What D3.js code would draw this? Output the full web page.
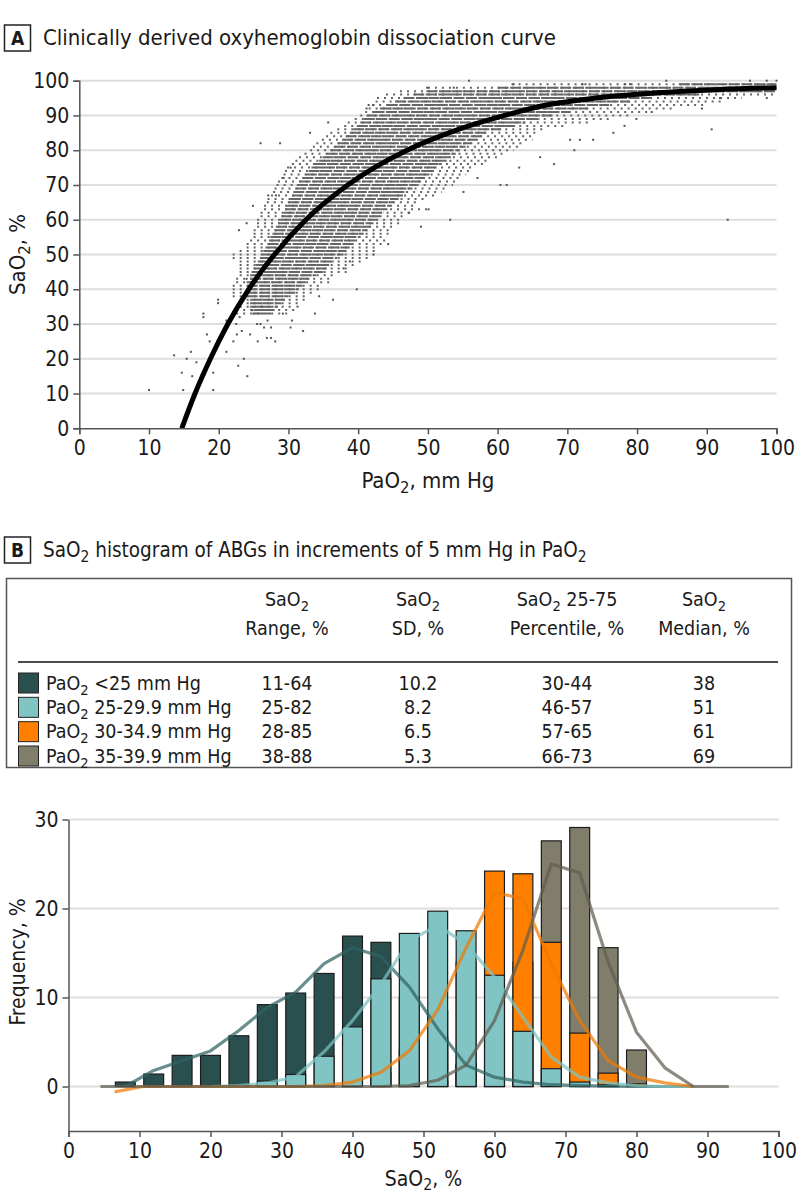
<!DOCTYPE html>
<html>
<head>
<meta charset="utf-8">
<script src="https://cdn.jsdelivr.net/npm/d3@7"></script>
<style>
  body { margin: 0; background: #fff; }
  text { font-family: 'DejaVu Sans Condensed', 'Liberation Sans Narrow', sans-serif; fill: #1a1a1a; }
</style>
</head>
<body>
<svg id="chart" width="798" height="1197"></svg>
<script>
// ---------- panel A data ----------
// fitted curve
const curvePaO2 = [14.7, 16.6, 18.8, 21.3, 24.3, 28.0, 32.5, 38.5, 47, 53, 61, 67, 74, 83, 92, 100];
const curveSaO2 = [0, 10, 20, 30, 40, 50, 60, 70, 80, 85, 90, 93, 95, 96.5, 97.5, 98];

// each SaO2 level: [SaO2, sparse from, dense from, dense to, sparse to] (PaO2, mm Hg)
const bandRows = [
  [33, 22.5, 25.0, 27.5, 30], [34, 22.5, 25.0, 28.0, 31], [35, 23, 24.5, 28.5, 31],
  [36, 23, 24.5, 29.0, 32], [37, 23, 24.5, 29.5, 33], [38, 22, 24.0, 30.0, 33],
  [39, 22, 24.0, 31.0, 34], [40, 22, 24.0, 31.5, 35], [41, 22, 24.0, 32.0, 35],
  [42, 22.5, 24.0, 32.5, 36], [43, 22.5, 24.5, 33.0, 36], [44, 23, 24.5, 34.0, 37],
  [45, 23, 24.7, 35.0, 38.6], [46, 23, 25.0, 35.5, 39], [47, 23, 25.3, 36.0, 40],
  [48, 23, 25.6, 36.5, 41], [49, 22, 25.9, 37.0, 42], [50, 22, 26.2, 37.9, 42.2],
  [51, 23, 26.4, 38.2, 43], [52, 24, 26.7, 38.8, 43], [53, 24, 27.0, 39.3, 44],
  [54, 24.5, 27.2, 39.8, 44], [55, 25, 27.4, 40.3, 44.1], [56, 25, 27.7, 40.8, 45],
  [57, 25, 28.0, 41.3, 45], [58, 25.5, 28.2, 41.8, 45.5], [59, 25.5, 28.5, 42.2, 46],
  [60, 25.5, 28.8, 42.7, 46], [61, 26, 29.0, 43.2, 47], [62, 26, 29.3, 43.7, 47.5],
  [63, 26.5, 29.5, 44.2, 50], [64, 26.5, 29.8, 44.6, 48], [65, 26.9, 30.0, 45.1, 49],
  [66, 27, 30.2, 45.8, 50], [67, 27.5, 30.5, 46.5, 51], [68, 27.8, 30.7, 47.1, 52],
  [69, 28, 31.0, 47.8, 53], [70, 28.3, 31.2, 48.4, 53.6], [71, 28.5, 31.6, 49.0, 54],
  [72, 29, 32.0, 49.6, 55], [73, 29.3, 32.5, 50.2, 55.5], [74, 29.5, 32.9, 50.8, 56],
  [75, 29.8, 33.3, 51.3, 56.5], [76, 30.5, 33.8, 52.0, 58], [77, 31, 34.4, 52.7, 59],
  [78, 31.5, 34.9, 53.3, 60], [79, 32.3, 35.5, 54.0, 61], [80, 33.1, 36.0, 54.6, 62.3],
  [81, 33.5, 36.6, 55.4, 63], [82, 34, 37.1, 56.2, 64], [83, 34.8, 37.7, 57.0, 65],
  [84, 35.4, 38.2, 57.7, 65.5], [85, 36, 38.8, 58.5, 66], [86, 37, 39.3, 60.5, 67],
  [87, 38, 39.8, 62.5, 70], [88, 38.5, 40.3, 64.0, 73], [89, 39.5, 40.8, 66.0, 76],
  [90, 40.3, 41.2, 68.0, 79], [91, 41, 42.2, 70.5, 82], [92, 41.5, 43.1, 73.0, 85],
  [93, 42, 44.1, 76.0, 90], [94, 42.5, 45.3, 79.0, 92], [95, 42.7, 46.5, 82.0, 95],
  [96, 44, 47.9, 89.0, 100], [97, 46, 49.8, 100, 100], [98, 50, 60.0, 100, 100],
  [99, 62, 86.0, 100, 100]
];

// single ABGs outside the dense cloud: [PaO2, SaO2]
const outliers = [
  [10, 11], [13.6, 21], [14.7, 16], [14.9, 11], [15.4, 20], [16, 22], [16.2, 15], [16.8, 19],
  [17.8, 32], [17.8, 33], [18.3, 27], [18.7, 25], [19.2, 16], [19.2, 11], [19.9, 36], [19.9, 37],
  [21.1, 22], [21.1, 31], [22.1, 25], [22.6, 27], [22.8, 18], [23.3, 28], [24.1, 15], [22.9, 57],
  [24, 59], [24.9, 64], [26, 82], [28.8, 82], [27.1, 67], [28.2, 67], [29.3, 72], [30.3, 75],
  [33.1, 85], [35.7, 88], [25.5, 30], [26.5, 29], [27.5, 26], [28.1, 25], [30.3, 29], [30.5, 31],
  [32.1, 28], [33.8, 33], [36.4, 37], [39.8, 40], [42.2, 50], [38.8, 48], [37.9, 46], [44.3, 53],
  [41.5, 93], [42.2, 93], [41.2, 92], [93, 60], [90.7, 86], [89.3, 92], [53.2, 60], [49, 58],
  [55.1, 68], [60.4, 70], [61.3, 70], [57.1, 72], [68.1, 76], [71, 80], [66.1, 78], [63.1, 75],
  [73.7, 83], [70.4, 83], [71.8, 83], [76.6, 85], [78.2, 87], [79.9, 89], [82.1, 91], [50.1, 63],
  [47.3, 62], [96.2, 100], [98.6, 100], [100, 100], [84.2, 100], [55.9, 100], [62.3, 99], [72.1, 99],
  [72.6, 99], [78.3, 99], [79, 99], [53.7, 98], [49.9, 98], [98.6, 95], [91.9, 95], [24, 43],
  [24.8, 34], [26.2, 35], [23.6, 20], [25.6, 25], [26.9, 26], [29.2, 33], [31.3, 35], [34.4, 38],
  [22.5, 30], [23, 32], [24.5, 27], [26, 30], [27, 31], [27.5, 29], [25, 33]
];

// ---------- panel B data ----------
const groups = ["<25 mm Hg", "25-29.9 mm Hg", "30-34.9 mm Hg", "35-39.9 mm Hg"];
const colRange = ["11-64", "25-82", "28-85", "38-88"];
const colSD = ["10.2", "8.2", "6.5", "5.3"];
const colIQR = ["30-44", "46-57", "57-65", "66-73"];
const colMedian = ["38", "51", "61", "69"];

const binCenters = [8, 12, 16, 20, 24, 28, 32, 36, 40, 44, 48, 52, 56, 60, 64, 68, 72, 76, 80];
const freqLt25 = [0.5, 1.4, 3.5, 3.5, 5.7, 9.2, 10.5, 12.7, 16.9, 16.2, 10.0, 5.5, 2.5, 1.0, 0.3, 0, 0, 0, 0];
const freq25 = [0, 0, 0, 0, 0.1, 0.6, 1.35, 3.4, 6.7, 12.1, 17.2, 19.7, 17.5, 12.5, 6.2, 2.0, 0.5, 0.2, 0];
const freq30 = [0, 0, 0, 0, 0, 0, 0, 0, 0.4, 1.5, 4.0, 8.5, 14.0, 24.2, 23.9, 16.2, 6.0, 1.5, 0.3];
const freq35 = [0, 0, 0, 0, 0, 0, 0, 0, 0, 0, 0.1, 0.6, 2.5, 6.5, 14.0, 27.6, 29.1, 15.6, 4.1];

// smoothed frequency lines: x = SaO2 %, y = frequency %
const lineLt25X = [8, 12, 16, 20, 24, 28, 32, 36, 40, 44, 48, 52, 56, 60, 64, 68, 72, 76, 80, 84, 88];
const lineLt25Y = [0, 1.8, 2.9, 4.0, 6.3, 8.9, 10.6, 13.8, 15.6, 14.6, 11.2, 6.5, 2.4, 1.05, 0.5, 0.2, 0.1, 0.05, 0, 0, 0];
const line25X = [20, 24, 28, 32, 36, 40, 44, 48, 52, 56, 60, 64, 68, 72, 76, 80, 84, 88];
const line25Y = [0, 0.1, 0.4, 1.1, 3.9, 7.4, 11.5, 16.4, 18.1, 16.0, 12.3, 7.8, 3.3, 1.05, 0.4, 0.1, 0, 0];
const line30X = [6.5, 10.5, 16, 20, 24, 28, 32, 36, 40, 44, 48, 52, 56, 60, 64, 68, 72, 76, 80, 84, 88];
const line30Y = [-0.6, 0, 0, 0, 0, 0, 0, 0.1, 0.5, 1.6, 4.0, 8.6, 15.6, 21.8, 21.1, 13.8, 7.4, 2.9, 1.05, 0.4, 0];
const line35X = [4.5, 8, 12, 16, 20, 24, 28, 32, 36, 40, 44, 48, 52, 56, 60, 64, 68, 72, 76, 80, 84, 88, 93];
const line35Y = [0, 0, 0, 0, 0, 0, 0, 0, 0, 0, 0, 0.1, 0.7, 2.4, 7.4, 15.3, 25.0, 24.0, 14.0, 6.1, 2.1, 0, 0];

const barColors = ["#2a4f4f", "#80c4c4", "#ff8000", "#807e6b"];
const lineColors = ["#2f6363", "#7cc3c3", "#f07800", "#5f5d50"];

const svg = d3.select("#chart");
const axisColor = "#555";
const gridColor = "#dedede";

// text with "_2" turned into a subscript 2
const richText = (sel, str, shift) => {
    const parts = str.split("_2");
    parts.forEach((p, i) => {
        if (i > 0) {
            sel.append("tspan").attr("dy", shift).attr("font-size", "0.75em").text("2");
            sel.append("tspan").attr("dy", -shift).text(p);
        } else sel.append("tspan").text(p);
    });
    return sel;
};

// panel letter box + title
const panelHead = (letter, y, title, size) => {
    svg.append("rect").attr("x", 4.5).attr("y", y).attr("width", 26).attr("height", 26)
        .attr("fill", "none").attr("stroke", "#222").attr("stroke-width", 1.5);
    svg.append("text").attr("x", 17.5).attr("y", y + 20).attr("text-anchor", "middle")
        .attr("font-size", 19).attr("font-weight", "bold").text(letter);
    richText(svg.append("text").attr("x", 43).attr("y", y + 20).attr("font-size", size), title, 5);
};

// ================= PANEL A =================
panelHead("A", 25, "Clinically derived oxyhemoglobin dissociation curve", 22);

const xA = d3.scaleLinear().domain([0, 100]).range([79.3, 776.5]);
const yA = d3.scaleLinear().domain([0, 100]).range([428.3, 80.7]);

svg.append("g").selectAll("line").data(d3.range(10, 101, 10)).join("line")
    .attr("x1", xA(0)).attr("x2", xA(100))
    .attr("y1", d => yA(d)).attr("y2", d => yA(d))
    .attr("stroke", gridColor).attr("stroke-width", 2);

// sparse fringe of each SaO2 row
const gA = svg.append("g");
gA.selectAll("line.fringe").data(bandRows).join("line").attr("class", "fringe")
    .attr("x1", d => xA(d[1])).attr("x2", d => xA(d[4]))
    .attr("y1", d => yA(d[0])).attr("y2", d => yA(d[0]))
    .attr("stroke", "#666").attr("stroke-width", 2).attr("stroke-dasharray", "2,5");
// dense part of each SaO2 row
gA.selectAll("line.dense").data(bandRows).join("line").attr("class", "dense")
    .attr("x1", d => xA(d[2])).attr("x2", d => xA(d[3]))
    .attr("y1", d => yA(d[0])).attr("y2", d => yA(d[0]))
    .attr("stroke", "#666").attr("stroke-width", 2).attr("stroke-dasharray", "11,1.5");
gA.selectAll("rect").data(outliers).join("rect")
    .attr("x", d => xA(d[0]) - 1).attr("y", d => yA(d[1]) - 1)
    .attr("width", 2).attr("height", 2).attr("fill", "#555");

const curveLine = d3.line().x(d => xA(d[0])).y(d => yA(d[1])).curve(d3.curveMonotoneX);
svg.append("path").datum(d3.zip(curvePaO2, curveSaO2)).attr("d", curveLine)
    .attr("fill", "none").attr("stroke", "#000").attr("stroke-width", 5);

const axA_x = svg.append("g").attr("transform", `translate(0,${yA(0)})`)
    .call(d3.axisBottom(xA).tickValues(d3.range(0, 101, 10)).tickSize(6).tickPadding(6));
const axA_y = svg.append("g").attr("transform", `translate(${xA(0)},0)`)
    .call(d3.axisLeft(yA).tickValues(d3.range(0, 101, 10)).tickSize(6).tickPadding(4));
[axA_x, axA_y].forEach(a => {
    a.select(".domain").attr("stroke", axisColor).attr("stroke-width", 1.5);
    a.selectAll(".tick line").attr("stroke", axisColor).attr("stroke-width", 1.5);
    a.selectAll(".tick text").attr("font-size", 21).attr("fill", "#1a1a1a")
        .style("font-family", "'DejaVu Sans Condensed', sans-serif");
});

richText(svg.append("text").attr("x", xA(50)).attr("y", 488).attr("text-anchor", "middle")
    .attr("font-size", 22), "PaO_2, mm Hg", 5);
richText(svg.append("text").attr("transform", `translate(25,${yA(50)}) rotate(-90)`)
    .attr("text-anchor", "middle").attr("font-size", 22), "SaO_2, %", 5);

// ================= PANEL B : table =================
panelHead("B", 537, "SaO_2 histogram of ABGs in increments of 5 mm Hg in PaO_2", 20.5);

svg.append("rect").attr("x", 6.5).attr("y", 578.5).attr("width", 785).attr("height", 189)
    .attr("fill", "none").attr("stroke", "#555").attr("stroke-width", 1.5);
svg.append("line").attr("x1", 18).attr("x2", 778).attr("y1", 662).attr("y2", 662)
    .attr("stroke", "#111").attr("stroke-width", 1.5);

const colX = [287, 418, 567, 704];
const headTop = ["SaO_2", "SaO_2", "SaO_2 25-75", "SaO_2"];
const headBottom = ["Range, %", "SD, %", "Percentile, %", "Median, %"];
headTop.forEach((h, i) => {
    richText(svg.append("text").attr("x", colX[i]).attr("y", 606).attr("text-anchor", "middle")
        .attr("font-size", 19.5), h, 5);
    svg.append("text").attr("x", colX[i]).attr("y", 635).attr("text-anchor", "middle")
        .attr("font-size", 19.5).text(headBottom[i]);
});

const rowY = d3.scalePoint().domain(groups).range([683, 756]);
groups.forEach((g, i) => {
    const y = rowY(g);
    svg.append("rect").attr("x", 18.5).attr("y", y - 10).attr("width", 20).attr("height", 20)
        .attr("fill", barColors[i]).attr("stroke", "#222").attr("stroke-width", 1);
    richText(svg.append("text").attr("x", 46).attr("y", y + 6.5).attr("font-size", 19.5), "PaO_2 " + g, 5);
    [colRange[i], colSD[i], colIQR[i], colMedian[i]].forEach((v, j) => {
        svg.append("text").attr("x", colX[j]).attr("y", y + 6.5).attr("text-anchor", "middle")
            .attr("font-size", 19.5).text(v);
    });
});

// ================= PANEL B : histogram =================
const xB = d3.scaleLinear().domain([0, 100]).range([68.5, 778.5]);
const yB = d3.scaleLinear().domain([-5, 30]).range([1131, 819.5]);

svg.append("g").selectAll("line").data([0, 10, 20, 30]).join("line")
    .attr("x1", xB(0)).attr("x2", xB(100))
    .attr("y1", d => yB(d)).attr("y2", d => yB(d))
    .attr("stroke", gridColor).attr("stroke-width", 2);

// bars: back to front = 35-39.9, 30-34.9, <25, 25-29.9
const series = [freqLt25, freq25, freq30, freq35];
const drawOrder = [3, 2, 0, 1];
const halfBar = 1.4;
drawOrder.forEach(k => {
    svg.append("g").selectAll("rect")
        .data(binCenters.map((c, i) => [c, series[k][i]]).filter(d => d[1] > 0))
        .join("rect")
        .attr("x", d => xB(d[0] - halfBar)).attr("width", d => xB(d[0] + halfBar) - xB(d[0] - halfBar))
        .attr("y", d => yB(d[1])).attr("height", d => yB(0) - yB(d[1]))
        .attr("fill", barColors[k]).attr("stroke", "#1c1c1c").attr("stroke-width", 1.2);
});

const lineB = d3.line().x(d => xB(d[0])).y(d => yB(d[1]));
const lines = [[lineLt25X, lineLt25Y], [line25X, line25Y], [line30X, line30Y], [line35X, line35Y]];
lines.forEach((l, k) => {
    svg.append("path").datum(d3.zip(l[0], l[1])).attr("d", lineB)
        .attr("fill", "none").attr("stroke", lineColors[k]).attr("stroke-width", 3.2)
        .attr("stroke-opacity", 0.72).attr("stroke-linejoin", "round");
});

const axB_x = svg.append("g").attr("transform", `translate(0,${yB(-5)})`)
    .call(d3.axisBottom(xB).tickValues(d3.range(0, 101, 10)).tickSize(6).tickPadding(6));
const axB_y = svg.append("g").attr("transform", `translate(${xB(0)},0)`)
    .call(d3.axisLeft(yB).tickValues([0, 10, 20, 30]).tickSize(6).tickPadding(4).tickSizeOuter(0));
[axB_x, axB_y].forEach(a => {
    a.select(".domain").attr("stroke", axisColor).attr("stroke-width", 1.5);
    a.selectAll(".tick line").attr("stroke", axisColor).attr("stroke-width", 1.5);
    a.selectAll(".tick text").attr("font-size", 21).attr("fill", "#1a1a1a")
        .style("font-family", "'DejaVu Sans Condensed', sans-serif");
});

richText(svg.append("text").attr("x", xB(50)).attr("y", 1186).attr("text-anchor", "middle")
    .attr("font-size", 21), "SaO_2, %", 4);
svg.append("text").attr("transform", `translate(25,${yB(14)}) rotate(-90)`)
    .attr("text-anchor", "middle").attr("font-size", 21).text("Frequency, %");
</script>
</body>
</html>
